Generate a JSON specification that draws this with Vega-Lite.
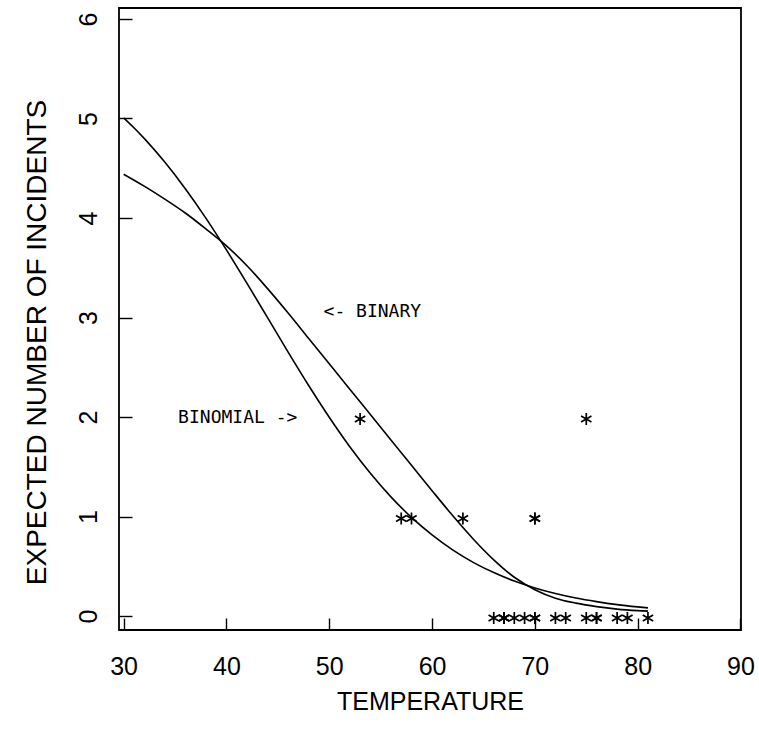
{
  "$schema": "https://vega.github.io/schema/vega-lite/v6.json",
  "width": 622,
  "height": 622,
  "autosize": "none",
  "padding": {"left": 119, "top": 8, "right": 18, "bottom": 100},
  "background": "white",
  "config": {
    "view": {"stroke": "black", "strokeWidth": 1.8},
    "font": "Liberation Sans"
  },
  "datasets": {
    "obs": [
      {"temp": 66, "incidents": 0}, {"temp": 70, "incidents": 1}, {"temp": 69, "incidents": 0},
      {"temp": 68, "incidents": 0}, {"temp": 67, "incidents": 0}, {"temp": 72, "incidents": 0},
      {"temp": 73, "incidents": 0}, {"temp": 70, "incidents": 0}, {"temp": 57, "incidents": 1},
      {"temp": 63, "incidents": 1}, {"temp": 70, "incidents": 1}, {"temp": 78, "incidents": 0},
      {"temp": 67, "incidents": 0}, {"temp": 53, "incidents": 2}, {"temp": 67, "incidents": 0},
      {"temp": 75, "incidents": 0}, {"temp": 70, "incidents": 0}, {"temp": 81, "incidents": 0},
      {"temp": 76, "incidents": 0}, {"temp": 79, "incidents": 0}, {"temp": 75, "incidents": 2},
      {"temp": 76, "incidents": 0}, {"temp": 58, "incidents": 1}
    ],
    "curves": [
      {"model": "binomial", "temp": 30, "value": 5.006},
      {"model": "binomial", "temp": 31, "value": 4.907},
      {"model": "binomial", "temp": 32, "value": 4.8},
      {"model": "binomial", "temp": 34, "value": 4.562},
      {"model": "binomial", "temp": 36, "value": 4.294},
      {"model": "binomial", "temp": 38, "value": 3.999},
      {"model": "binomial", "temp": 40, "value": 3.679},
      {"model": "binomial", "temp": 42, "value": 3.343},
      {"model": "binomial", "temp": 44, "value": 2.998},
      {"model": "binomial", "temp": 46, "value": 2.653},
      {"model": "binomial", "temp": 48, "value": 2.317},
      {"model": "binomial", "temp": 50, "value": 1.998},
      {"model": "binomial", "temp": 52, "value": 1.702},
      {"model": "binomial", "temp": 54, "value": 1.435},
      {"model": "binomial", "temp": 56, "value": 1.198},
      {"model": "binomial", "temp": 58, "value": 0.991},
      {"model": "binomial", "temp": 60, "value": 0.815},
      {"model": "binomial", "temp": 62, "value": 0.665},
      {"model": "binomial", "temp": 64, "value": 0.54},
      {"model": "binomial", "temp": 66, "value": 0.437},
      {"model": "binomial", "temp": 68, "value": 0.352},
      {"model": "binomial", "temp": 70, "value": 0.283},
      {"model": "binomial", "temp": 72, "value": 0.227},
      {"model": "binomial", "temp": 74, "value": 0.181},
      {"model": "binomial", "temp": 76, "value": 0.145},
      {"model": "binomial", "temp": 78, "value": 0.115},
      {"model": "binomial", "temp": 80, "value": 0.092},
      {"model": "binomial", "temp": 81, "value": 0.082},
      {"model": "binary", "temp": 30, "value": 4.44},
      {"model": "binary", "temp": 32, "value": 4.32},
      {"model": "binary", "temp": 34, "value": 4.19},
      {"model": "binary", "temp": 36, "value": 4.05},
      {"model": "binary", "temp": 38, "value": 3.89},
      {"model": "binary", "temp": 40, "value": 3.72},
      {"model": "binary", "temp": 42, "value": 3.52},
      {"model": "binary", "temp": 44, "value": 3.29},
      {"model": "binary", "temp": 46, "value": 3.045},
      {"model": "binary", "temp": 48, "value": 2.79},
      {"model": "binary", "temp": 50, "value": 2.535},
      {"model": "binary", "temp": 52, "value": 2.28},
      {"model": "binary", "temp": 54, "value": 2.025},
      {"model": "binary", "temp": 56, "value": 1.77},
      {"model": "binary", "temp": 58, "value": 1.515},
      {"model": "binary", "temp": 60, "value": 1.26},
      {"model": "binary", "temp": 62, "value": 1.01},
      {"model": "binary", "temp": 64, "value": 0.775},
      {"model": "binary", "temp": 66, "value": 0.565},
      {"model": "binary", "temp": 68, "value": 0.39},
      {"model": "binary", "temp": 70, "value": 0.265},
      {"model": "binary", "temp": 72, "value": 0.18},
      {"model": "binary", "temp": 74, "value": 0.13},
      {"model": "binary", "temp": 76, "value": 0.095},
      {"model": "binary", "temp": 78, "value": 0.07},
      {"model": "binary", "temp": 80, "value": 0.055},
      {"model": "binary", "temp": 81, "value": 0.05}
    ],
    "notes": [
      {"temp": 49.45, "value": 3.06, "label": "<- BINARY"},
      {"temp": 35.3, "value": 1.99, "label": "BINOMIAL ->"}
    ]
  },
  "encoding": {
    "x": {
      "field": "temp", "type": "quantitative",
      "scale": {"domain": [29.55, 90.05], "nice": false, "zero": false},
      "axis": {
        "title": "TEMPERATURE", "values": [30, 40, 50, 60, 70, 80, 90],
        "grid": false, "domain": false, "offset": -12,
        "tickSize": 12, "tickColor": "black", "tickWidth": 1.4,
        "labelFont": "Liberation Sans", "labelFontSize": 25, "labelColor": "black",
        "labelPadding": 24, "labelBaseline": "top", "labelFlush": false,
        "titleFont": "Liberation Sans", "titleFontSize": 25, "titleFontWeight": "normal", "titleColor": "black",
        "titleX": 311, "titleY": 83, "titleBaseline": "middle", "titleAlign": "center"
      }
    },
    "y": {
      "field": "value", "type": "quantitative",
      "scale": {"domain": [-0.14, 6.11], "nice": false, "zero": false},
      "axis": {
        "title": "EXPECTED NUMBER OF INCIDENTS", "values": [0, 1, 2, 3, 4, 5, 6],
        "grid": false, "domain": false, "offset": -13,
        "tickSize": 13, "tickColor": "black", "tickWidth": 1.4,
        "labelFont": "Liberation Sans", "labelFontSize": 25, "labelColor": "black",
        "labelAngle": -90, "labelAlign": "center", "labelBaseline": "bottom",
        "labelPadding": 18, "labelFlush": false,
        "titleFont": "Liberation Sans", "titleFontSize": 28, "titleFontWeight": "normal", "titleColor": "black",
        "titleX": -95, "titleY": 334, "titleBaseline": "middle", "titleAlign": "center", "titleAngle": -90
      }
    }
  },
  "layer": [
    {
      "data": {"name": "curves"},
      "mark": {"type": "line", "color": "black", "strokeWidth": 1.6, "interpolate": "monotone"},
      "encoding": {"detail": {"field": "model", "type": "nominal"}}
    },
    {
      "data": {"name": "obs"},
      "mark": {
        "type": "point",
        "shape": "M0,-1L0,1M-0.866,-0.5L0.866,0.5M-0.866,0.5L0.866,-0.5",
        "filled": false, "stroke": "black", "strokeWidth": 1.7, "size": 144, "opacity": 1, "yOffset": 2
      },
      "encoding": {"y": {"field": "incidents", "type": "quantitative"}}
    },
    {
      "data": {"name": "notes"},
      "mark": {"type": "text", "font": "DejaVu Sans Mono", "fontSize": 18, "align": "left", "baseline": "middle", "color": "black"},
      "encoding": {"text": {"field": "label", "type": "nominal"}}
    }
  ]
}
